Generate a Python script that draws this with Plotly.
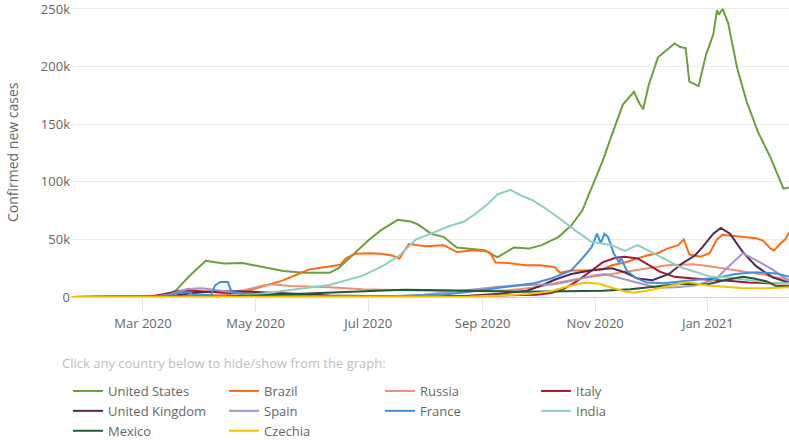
import plotly.graph_objects as go

# ---------------- data (7-day average of confirmed new cases) ----------------
us_dates = ["2020-01-22", "2020-03-01", "2020-03-10", "2020-03-15", "2020-03-19", "2020-03-26", "2020-04-04",
            "2020-04-10", "2020-04-14", "2020-04-24", "2020-05-05", "2020-05-16", "2020-05-27", "2020-06-10",
            "2020-06-15", "2020-06-24", "2020-07-01", "2020-07-08", "2020-07-17", "2020-07-24", "2020-07-28",
            "2020-08-04", "2020-08-11", "2020-08-18", "2020-09-02", "2020-09-09", "2020-09-18", "2020-09-26",
            "2020-10-03", "2020-10-12", "2020-10-19", "2020-10-25", "2020-10-30", "2020-11-05", "2020-11-11",
            "2020-11-16", "2020-11-22", "2020-11-25", "2020-11-27", "2020-11-30", "2020-12-05", "2020-12-10",
            "2020-12-14", "2020-12-17", "2020-12-20", "2020-12-22", "2020-12-25", "2020-12-27", "2020-12-31",
            "2021-01-04", "2021-01-06", "2021-01-07", "2021-01-09", "2021-01-12", "2021-01-17", "2021-01-22",
            "2021-01-28", "2021-02-04", "2021-02-11", "2021-02-14"]
us_values = [0, 10, 500, 2000, 6000, 18000, 31500,
             30000, 29000, 29500, 26000, 22500, 21000, 21000,
             25000, 39000, 49000, 58000, 67000, 65500, 63000,
             55000, 52000, 43000, 40500, 34500, 43000, 42000,
             45000, 52000, 62000, 75000, 95000, 118000, 145000,
             167000, 178000, 168000, 163000, 184000, 208000, 215000,
             220000, 217000, 216000, 187000, 185000, 183000, 210000,
             228000, 249000, 245000, 250000, 238000, 198000, 170000,
             144000, 121000, 94000, 95000]

brazil_dates = ["2020-01-22", "2020-03-15", "2020-04-01", "2020-04-15", "2020-04-27", "2020-05-04", "2020-05-15",
                "2020-05-22", "2020-05-30", "2020-06-08", "2020-06-16", "2020-06-19", "2020-06-24", "2020-07-02",
                "2020-07-08", "2020-07-14", "2020-07-18", "2020-07-23", "2020-08-01", "2020-08-11", "2020-08-18",
                "2020-08-27", "2020-09-02", "2020-09-05", "2020-09-08", "2020-09-15", "2020-09-24", "2020-10-02",
                "2020-10-10", "2020-10-13", "2020-10-19", "2020-10-30", "2020-11-05", "2020-11-10", "2020-11-17",
                "2020-11-24", "2020-11-29", "2020-12-05", "2020-12-10", "2020-12-16", "2020-12-19", "2020-12-22",
                "2020-12-28", "2021-01-02", "2021-01-06", "2021-01-09", "2021-01-14", "2021-01-20", "2021-01-27",
                "2021-01-31", "2021-02-04", "2021-02-06", "2021-02-09", "2021-02-12", "2021-02-14"]
brazil_values = [0, 20, 800, 2000, 5500, 9000, 14000,
                 18500, 24000, 26000, 28000, 33500, 37500, 38000,
                 37500, 36000, 33500, 46000, 44000, 45000, 39000,
                 40500, 40000, 38500, 30000, 29500, 27500, 27500,
                 26000, 21000, 23000, 23000, 24000, 27500, 30000,
                 33500, 36000, 38000, 42000, 45000, 50000, 37000,
                 35000, 38000, 50000, 54000, 53000, 52000, 51000,
                 49000, 42000, 40500, 46000, 50000, 56000]

russia_dates = ["2020-01-22", "2020-03-20", "2020-04-05", "2020-04-15", "2020-04-25", "2020-05-05", "2020-05-10",
                "2020-05-20", "2020-06-10", "2020-06-28", "2020-07-15", "2020-08-10", "2020-09-01", "2020-09-15",
                "2020-09-28", "2020-10-10", "2020-10-25", "2020-11-10", "2020-11-25", "2020-12-10", "2020-12-24",
                "2021-01-01", "2021-01-15", "2021-01-31", "2021-02-14"]
russia_values = [0, 50, 600, 3000, 6000, 10000, 11000,
                 9500, 8500, 6800, 6000, 5200, 5000, 5800,
                 8000, 12000, 16500, 20000, 24000, 27500, 28500,
                 27000, 23500, 19500, 15000]

italy_dates = ["2020-01-22", "2020-02-25", "2020-03-05", "2020-03-12", "2020-03-21", "2020-03-28", "2020-04-10",
               "2020-04-25", "2020-05-10", "2020-06-01", "2020-07-01", "2020-08-01", "2020-08-20", "2020-09-10",
               "2020-09-30", "2020-10-08", "2020-10-15", "2020-10-22", "2020-10-29", "2020-11-05", "2020-11-12",
               "2020-11-17", "2020-11-24", "2020-11-29", "2020-12-06", "2020-12-14", "2020-12-23", "2021-01-01",
               "2021-01-12", "2021-01-23", "2021-02-03", "2021-02-14"]
italy_values = [0, 50, 500, 2500, 5500, 5500, 4200,
                2800, 1200, 450, 200, 300, 800, 1500,
                1900, 3500, 7000, 13500, 22000, 30000, 34000,
                35000, 33500, 29000, 22000, 17500, 16000, 15000,
                14000, 12500, 12000, 12000]

uk_dates = ["2020-01-22", "2020-03-01", "2020-03-15", "2020-03-28", "2020-04-10", "2020-04-20", "2020-05-01",
            "2020-05-20", "2020-06-10", "2020-07-01", "2020-08-01", "2020-08-25", "2020-09-10", "2020-09-25",
            "2020-10-03", "2020-10-10", "2020-10-19", "2020-10-31", "2020-11-10", "2020-11-17", "2020-11-24",
            "2020-12-02", "2020-12-11", "2020-12-18", "2020-12-25", "2020-12-29", "2021-01-04", "2021-01-08",
            "2021-01-13", "2021-01-20", "2021-01-27", "2021-02-05", "2021-02-14"]
uk_values = [0, 5, 500, 3500, 4900, 5000, 4500,
             3000, 1300, 800, 800, 1100, 2800, 5500,
             10000, 15000, 20000, 23500, 25000, 21500, 16000,
             14500, 20000, 29000, 36000, 43000, 55000, 60000,
             55000, 39000, 27000, 17000, 12500]

spain_dates = ["2020-01-22", "2020-03-05", "2020-03-15", "2020-03-25", "2020-04-02", "2020-04-15", "2020-05-01",
               "2020-05-20", "2020-06-15", "2020-07-10", "2020-07-31", "2020-08-20", "2020-09-10", "2020-09-25",
               "2020-10-10", "2020-10-22", "2020-11-01", "2020-11-06", "2020-11-15", "2020-11-25", "2020-12-05",
               "2020-12-15", "2020-12-25", "2021-01-05", "2021-01-12", "2021-01-20", "2021-01-27", "2021-02-05",
               "2021-02-14"]
spain_values = [0, 100, 2000, 7000, 7500, 4800, 1500,
                400, 300, 500, 2000, 5500, 9000, 10500,
                11000, 15000, 19000, 20000, 16000, 12000, 8000,
                8500, 10000, 15000, 26000, 38000, 32000, 24000,
                14000]

france_dates = ["2020-01-22", "2020-03-01", "2020-03-12", "2020-03-20", "2020-03-26", "2020-03-29", "2020-04-07",
                "2020-04-09", "2020-04-12", "2020-04-16", "2020-04-18", "2020-04-25", "2020-05-10", "2020-06-01",
                "2020-07-01", "2020-07-20", "2020-08-10", "2020-08-25", "2020-09-10", "2020-09-20", "2020-09-29",
                "2020-10-08", "2020-10-19", "2020-10-25", "2020-10-30", "2020-11-02", "2020-11-04", "2020-11-06",
                "2020-11-08", "2020-11-11", "2020-11-14", "2020-11-15", "2020-11-18", "2020-11-23", "2020-11-29",
                "2020-12-08", "2020-12-17", "2020-12-26", "2021-01-07", "2021-01-16", "2021-01-27", "2021-02-07",
                "2021-02-14"]
france_values = [0, 10, 500, 3500, 4200, 1500, 2000,
                 10000, 13000, 13000, 4000, 2500, 800, 600,
                 500, 800, 2000, 4500, 8000, 10000, 12000,
                 16000, 23000, 33500, 43000, 55000, 46500, 55000,
                 52000, 38000, 30000, 34000, 23000, 16500, 12500,
                 12000, 13500, 14500, 17000, 20000, 21500, 20500,
                 17500]

india_dates = ["2020-01-22", "2020-03-20", "2020-04-10", "2020-04-25", "2020-05-05", "2020-05-22", "2020-06-10",
               "2020-06-28", "2020-07-09", "2020-07-18", "2020-07-27", "2020-08-04", "2020-08-13", "2020-08-22",
               "2020-08-28", "2020-09-04", "2020-09-09", "2020-09-16", "2020-09-22", "2020-09-28", "2020-10-05",
               "2020-10-12", "2020-10-21", "2020-10-30", "2020-11-10", "2020-11-17", "2020-11-24", "2020-11-29",
               "2020-12-08", "2020-12-17", "2020-12-26", "2021-01-03", "2021-01-12", "2021-01-23", "2021-02-03",
               "2021-02-14"]
india_values = [0, 30, 600, 1500, 3000, 6500, 10500,
                18500, 27000, 36000, 50000, 55000, 61000, 65500,
                72000, 81000, 89000, 93000, 88000, 84000, 77000,
                69000, 58000, 48000, 45000, 40000, 45000, 41000,
                33500, 26000, 21500, 17500, 17000, 14500, 12500,
                12000]

mexico_dates = ["2020-01-22", "2020-03-25", "2020-04-15", "2020-05-01", "2020-05-20", "2020-06-10", "2020-07-01",
                "2020-07-20", "2020-08-10", "2020-09-01", "2020-09-20", "2020-10-05", "2020-10-20", "2020-11-05",
                "2020-11-20", "2020-12-05", "2020-12-18", "2021-01-01", "2021-01-10", "2021-01-20", "2021-01-26",
                "2021-02-02", "2021-02-07", "2021-02-14"]
mexico_values = [0, 50, 600, 1300, 2500, 3600, 5500,
                 6200, 5800, 5000, 4600, 4800, 5200, 5500,
                 6800, 9000, 11500, 11000, 14500, 17500, 16000,
                 13500, 9500, 9500]

czechia_dates = ["2020-01-22", "2020-03-20", "2020-04-01", "2020-05-01", "2020-06-01", "2020-07-01", "2020-08-01",
                 "2020-08-25", "2020-09-10", "2020-09-25", "2020-10-08", "2020-10-18", "2020-10-27", "2020-11-03",
                 "2020-11-10", "2020-11-17", "2020-11-22", "2020-11-29", "2020-12-11", "2020-12-21", "2021-01-01",
                 "2021-01-10", "2021-01-19", "2021-02-01", "2021-02-14"]
czechia_values = [0, 150, 300, 80, 80, 150, 200,
                  400, 1200, 2500, 5000, 9500, 12500, 11500,
                  8000, 4800, 3800, 5500, 9500, 13000, 10000,
                  8800, 7800, 7500, 8500]

countries = ["United States", "Brazil", "Russia", "Italy", "United Kingdom",
             "Spain", "France", "India", "Mexico", "Czechia"]
series_dates = [us_dates, brazil_dates, russia_dates, italy_dates, uk_dates,
                spain_dates, france_dates, india_dates, mexico_dates, czechia_dates]
series_values = [us_values, brazil_values, russia_values, italy_values, uk_values,
                 spain_values, france_values, india_values, mexico_values, czechia_values]
colors = ["#6d9f3f", "#ff6a13", "#ef8f78", "#a5182f", "#55294f",
          "#a894c0", "#3f8ee0", "#8dd0c1", "#1f5a35", "#f2c300"]

y_tickvals = [0, 50000, 100000, 150000, 200000, 250000]
y_ticktext = ["0", "50k", "100k", "150k", "200k", "250k"]

FONT = "Open Sans, Noto Sans, sans-serif"

fig = go.Figure()
for name, d, v, c in zip(countries, series_dates, series_values, colors):
    fig.add_trace(go.Scatter(x=d, y=v, name=name, mode="lines",
                             line=dict(color=c, width=2)))

fig.update_layout(
    width=789, height=440,
    margin=dict(l=71, r=0, t=4, b=143, autoexpand=False),
    plot_bgcolor="white", paper_bgcolor="white",
    font=dict(family=FONT, size=13, color="#666666"),
    showlegend=True,
    legend=dict(orientation="h", xref="container", x=68 / 789, xanchor="left",
                y=(297 - 376) / 293, yanchor="top",
                entrywidth=111, entrywidthmode="pixels",
                font=dict(family=FONT, size=13, color="#666666"),
                bgcolor="rgba(0,0,0,0)", traceorder="normal"),
    annotations=[
        dict(text="Click any country below to hide/show from the graph:",
             xref="paper", yref="paper", x=(60 - 71) / 718, y=(297 - 363) / 293,
             xanchor="left", yanchor="middle", showarrow=False,
             font=dict(family=FONT, size=13, color="#bdbdbd")),
        dict(text="Confirmed new cases", textangle=-90,
             xref="paper", yref="paper", x=(12 - 71) / 718, y=(297 - 152) / 293,
             xanchor="center", yanchor="middle", showarrow=False,
             font=dict(family=FONT, size=14, color="#666666")),
    ],
)
fig.update_xaxes(range=["2020-01-22", "2021-02-14"], tick0="2020-03-01", dtick="M2",
                 tickformat="%b %Y", showgrid=False, ticks="outside", ticklen=14,
                 tickcolor="#e6e6e6", tickwidth=1, showline=False, zeroline=False,
                 automargin=False, tickfont=dict(size=13, color="#666666"))
fig.update_yaxes(range=[0, 254300], tickvals=y_tickvals, ticktext=y_ticktext,
                 showgrid=True, gridcolor="#ebebeb", gridwidth=1, zeroline=True,
                 zerolinecolor="#d0d0d0", zerolinewidth=1, showline=False,
                 automargin=False, ticklabeloverflow="allow",
                 tickfont=dict(size=13, color="#666666"))

fig.write_html("out.html", config={"displayModeBar": False},
               post_script="document.body.style.margin='0';document.body.style.overflow='hidden';")
